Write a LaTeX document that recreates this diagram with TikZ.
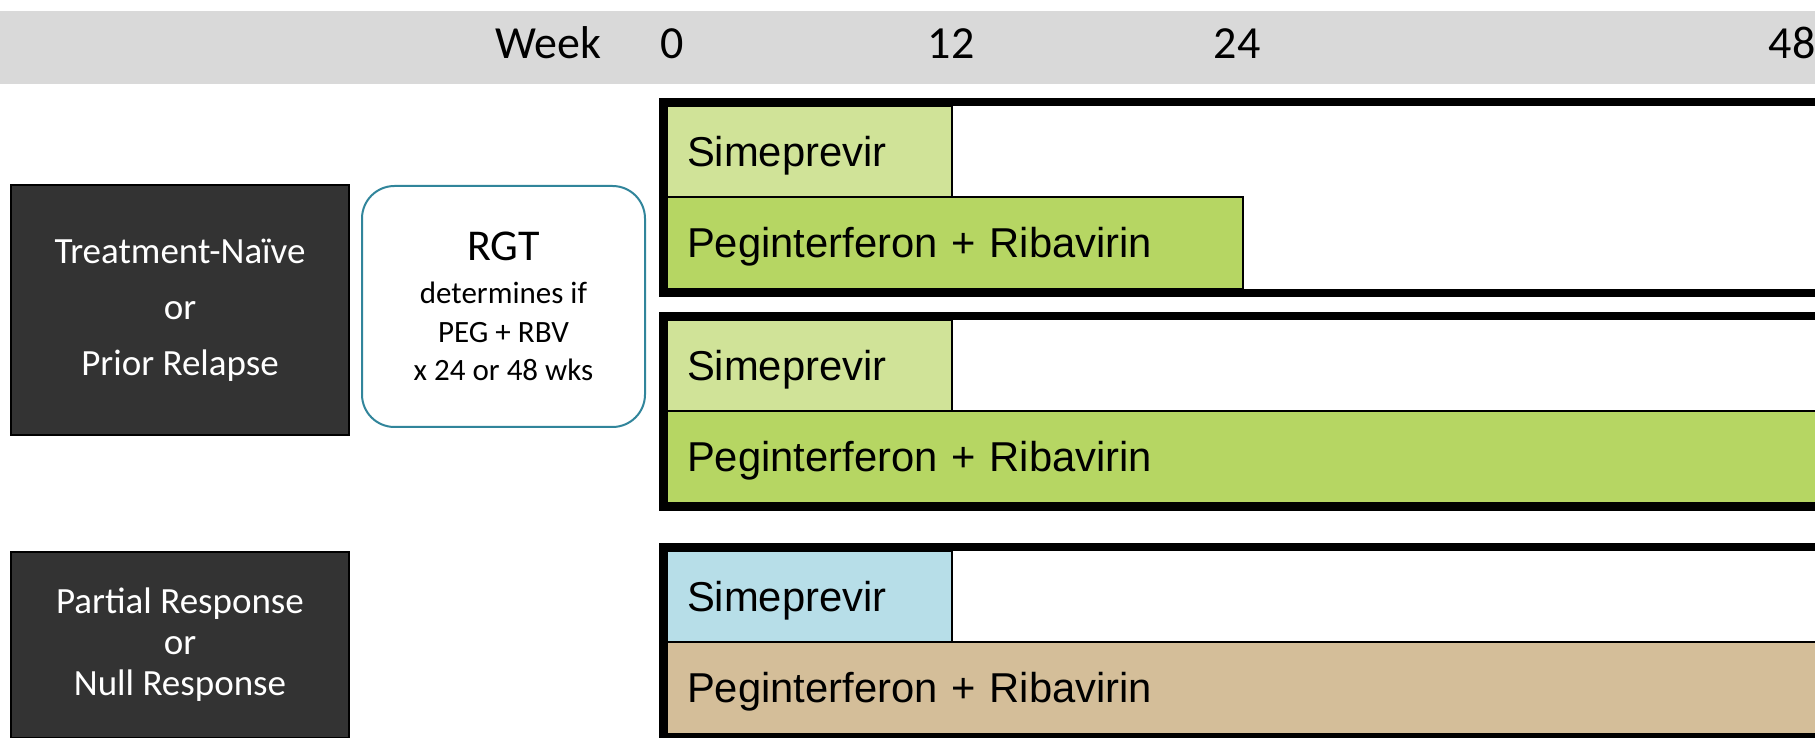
\documentclass[tikz,border=0pt]{standalone}
\usepackage{fontspec}
\setmainfont{Carlito}
\newfontfamily\arialfont{Liberation Sans}
\usetikzlibrary{positioning}

\definecolor{bandgray}{RGB}{217,217,217}
\definecolor{darkbox}{RGB}{51,51,51}
\definecolor{simgreen}{RGB}{208,227,152}
\definecolor{prgreen}{RGB}{182,214,99}
\definecolor{simblue}{RGB}{183,222,232}
\definecolor{prtan}{RGB}{212,190,153}
\definecolor{rgtteal}{RGB}{49,133,155}

\begin{document}
\begin{tikzpicture}[x=0.4pt,y=-0.4pt,inner sep=0pt,outer sep=0pt,
  weeklbl/.style={anchor=base,font=\fontsize{18.4}{18.4}\selectfont},
  group/.style={fill=darkbox,draw=black,line width=0.5pt,text=white,align=center,
    minimum width=338*\u},
  cell/.style={draw=black,line width=0.8pt,anchor=north west,align=left,
    inner xsep=20*\u,text width=#1*\u-40*\u,minimum height=91.5*\u,
    text height=37*\u,text depth=8*\u,font=\arialfont\fontsize{16.7}{16.7}\selectfont},
  armframe/.style={draw=black,line width=8*\u}]
\def\u{0.4pt}
\useasboundingbox (0,0) rectangle (1815,738);
\clip (0,0) rectangle (1815,738);

% week scale
\fill[bandgray] (0,11) rectangle (1815,84);
\node[weeklbl] (wk) at (548,59) {Week};
\foreach \x/\n in {672/0,951/12,1237/24,1792/48}
  \node[weeklbl] (w\n) at (\x,59) {\n};

% patient groups
\node[group,minimum height=250*\u,font=\fontsize{14.8}{22.4}\selectfont] (naive) at (180,310)
  {Treatment-Naïve\\or\\Prior Relapse};
\node[group,minimum height=186*\u,font=\fontsize{14.8}{16.4}\selectfont] (nonresp) at (180,645)
  {Partial Response\\or\\Null Response};

\node[draw=rgtteal,line width=0.8pt,rounded corners=13pt,fill=white,align=center,
  minimum width=283*\u,minimum height=241*\u,font=\fontsize{12.4}{15.4}\selectfont] (rgt) at (503.5,306.5)
  {{\fontsize{17.6}{17.6}\selectfont RGT}\\[1.8pt]determines if\\PEG + RBV\\x 24 or 48 wks};

% arms
\node[cell=285,fill=simgreen] (sim1) at (667,106) {Simeprevir};
\node[cell=576,fill=prgreen] (pr1) at (sim1.south west) {Peginterferon + Ribavirin};
\draw[armframe] (663,102) rectangle (1850,293);

\node[cell=285,fill=simgreen] (sim2) at (667,320) {Simeprevir};
\node[cell=1190,fill=prgreen] (pr2) at (sim2.south west) {Peginterferon + Ribavirin};
\draw[armframe] (663,316) rectangle (1850,507);

\node[cell=285,fill=simblue] (sim3) at (667,551) {Simeprevir};
\node[cell=1190,fill=prtan] (pr3) at (sim3.south west) {Peginterferon + Ribavirin};
\draw[armframe] (663,547) rectangle (1850,737);
\end{tikzpicture}
\end{document}
